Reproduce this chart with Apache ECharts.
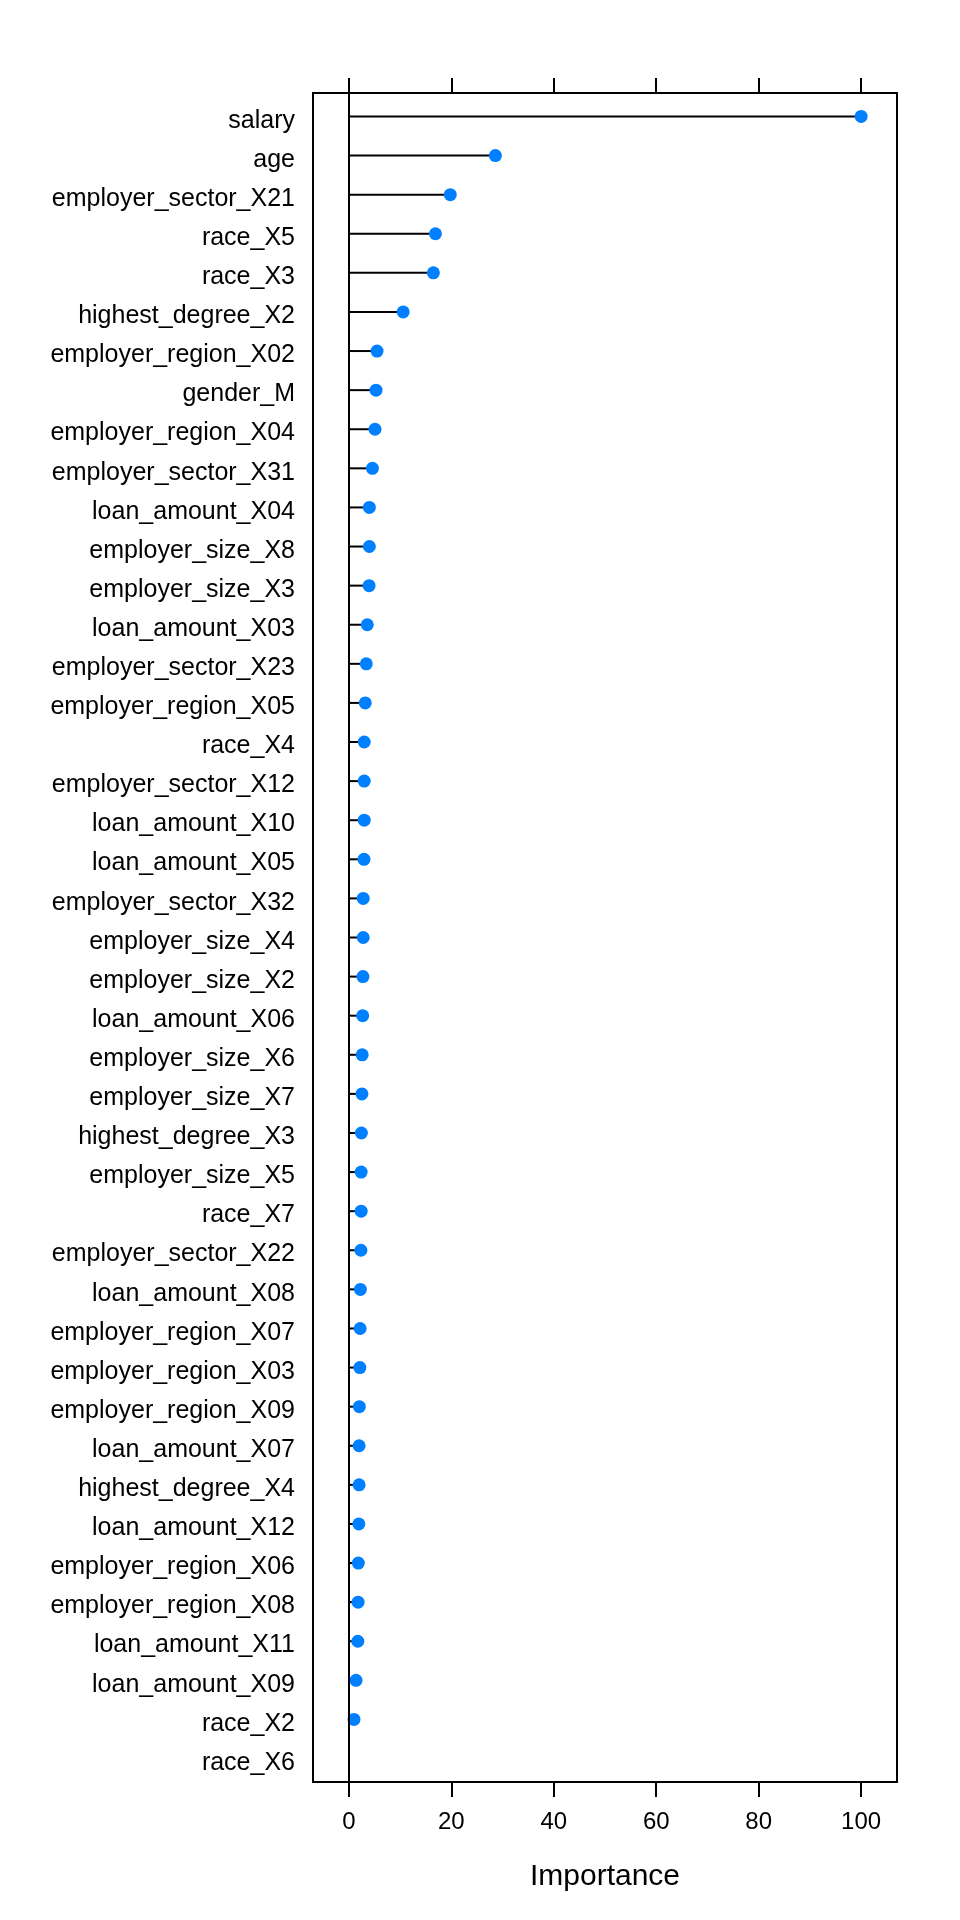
<!DOCTYPE html>
<html>
<head>
<meta charset="utf-8">
<script src="https://cdn.jsdelivr.net/npm/echarts@6/dist/echarts.min.js"></script>
<style>
html,body{margin:0;padding:0;background:#fff;}
#chart{width:960px;height:1920px;}
</style>
</head>
<body>
<div id="chart"></div>
<script>
// Variable names, top to bottom
const categories = [
  "salary","age","employer_sector_X21","race_X5","race_X3","highest_degree_X2",
  "employer_region_X02","gender_M","employer_region_X04","employer_sector_X31",
  "loan_amount_X04","employer_size_X8","employer_size_X3","loan_amount_X03",
  "employer_sector_X23","employer_region_X05","race_X4","employer_sector_X12",
  "loan_amount_X10","loan_amount_X05","employer_sector_X32","employer_size_X4",
  "employer_size_X2","loan_amount_X06","employer_size_X6","employer_size_X7",
  "highest_degree_X3","employer_size_X5","race_X7","employer_sector_X22",
  "loan_amount_X08","employer_region_X07","employer_region_X03","employer_region_X09",
  "loan_amount_X07","highest_degree_X4","loan_amount_X12","employer_region_X06",
  "employer_region_X08","loan_amount_X11","loan_amount_X09","race_X2","race_X6"
];
// Importance values; race_X6 has no point
const importance = [
  100, 28.6, 19.8, 16.9, 16.5, 10.6,
  5.5, 5.3, 5.1, 4.6,
  4.0, 4.0, 3.95, 3.6,
  3.4, 3.2, 3.0, 3.0,
  3.0, 2.95, 2.8, 2.8,
  2.75, 2.7, 2.6, 2.55,
  2.45, 2.4, 2.4, 2.35,
  2.25, 2.2, 2.15, 2.05,
  2.0, 2.0, 1.95, 1.85,
  1.8, 1.75, 1.4, 1.0, null
];
const xTicks = [0, 20, 40, 60, 80, 100];
const xName = "Importance";

// label anchor nudged slightly below each row (text sits a bit low in the original)
const labelPos = categories.map((_, i) => i + 0.11);
const points = [];
importance.forEach((v, i) => { if (v !== null) points.push([v, i]); });

const FONT = "'Liberation Sans', Arial, sans-serif";
const LW = 2;

const chart = echarts.init(document.getElementById('chart'), null, {renderer: 'canvas'});
chart.setOption({
  animation: false,
  backgroundColor: '#fff',
  grid: {
    left: 313, right: 63, top: 93, bottom: 138,
    show: true, borderColor: '#000', borderWidth: LW, backgroundColor: 'transparent'
  },
  xAxis: [
    {
      type: 'value', position: 'bottom', min: -7, max: 107,
      splitLine: {show: false},
      axisLine: {show: false, onZero: false},
      axisTick: {show: true, customValues: xTicks, length: 15, inside: false,
                 lineStyle: {color: '#000', width: LW}},
      axisLabel: {show: true, customValues: xTicks, margin: 28, fontSize: 24,
                  color: '#000', fontFamily: FONT},
      name: xName, nameLocation: 'middle', nameGap: 80,
      nameTextStyle: {fontSize: 30, color: '#000', fontFamily: FONT}
    },
    {
      type: 'value', position: 'top', min: -7, max: 107,
      splitLine: {show: false},
      axisLine: {show: false, onZero: false},
      axisTick: {show: true, customValues: xTicks, length: 15, inside: false,
                 lineStyle: {color: '#000', width: LW}},
      axisLabel: {show: false}
    }
  ],
  yAxis: {
    type: 'value', inverse: true, min: -0.6, max: categories.length - 1 + 0.6,
    splitLine: {show: false},
    axisLine: {show: false, onZero: false},
    axisTick: {show: false},
    axisLabel: {
      show: true, customValues: labelPos, margin: 18, fontSize: 25, color: '#000',
      fontFamily: FONT, verticalAlign: 'middle',
      formatter: (v) => categories[Math.round(v)]
    }
  },
  series: [
    {
      type: 'custom',
      xAxisIndex: 0,
      data: points,
      encode: {x: 0, y: 1},
      renderItem: function (params, api) {
        const p0 = api.coord([0, api.value(1)]);
        const p1 = api.coord([api.value(0), api.value(1)]);
        return {
          type: 'line',
          shape: {x1: p0[0], y1: p0[1], x2: p1[0], y2: p1[1]},
          style: {stroke: '#000', lineWidth: LW}
        };
      },
      silent: true,
      z: 2
    },
    {
      type: 'scatter',
      xAxisIndex: 0,
      data: points,
      symbol: 'circle',
      symbolSize: 13,
      itemStyle: {color: '#0080FF', opacity: 1},
      silent: true,
      z: 3,
      markLine: {
        silent: true,
        symbol: ['none', 'none'],
        label: {show: false},
        lineStyle: {color: '#000', width: LW, type: 'solid'},
        data: [{xAxis: 0}]
      }
    }
  ]
});
</script>
</body>
</html>
